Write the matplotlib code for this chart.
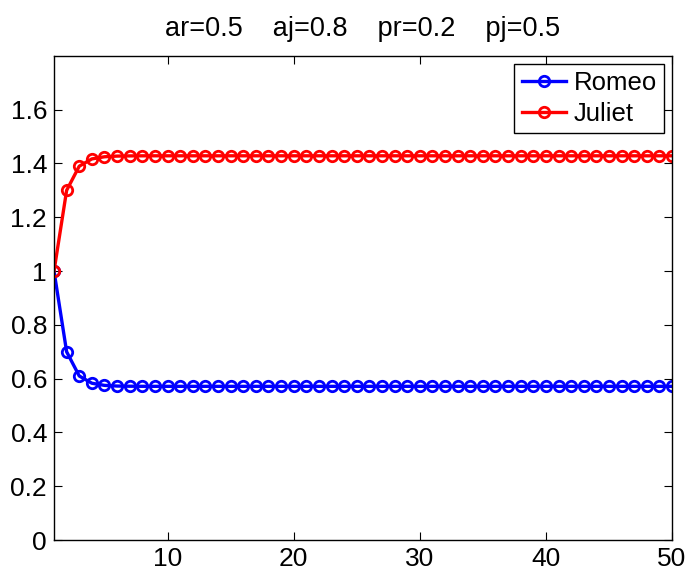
import numpy as np
import matplotlib.pyplot as plt
from matplotlib.ticker import FuncFormatter

plt.rcParams['font.family'] = ['Liberation Sans', 'DejaVu Sans']

# time steps
steps = list(range(1, 51))

# values
romeo = [1.0, 0.7, 0.61, 0.583, 0.575, 0.5725, 0.5718, 0.5715] + [0.5714] * 42
juliet = [1.0, 1.3, 1.39, 1.417, 1.425, 1.4275, 1.4282, 1.4285] + [1.4286] * 42

title_text = "ar=0.5    aj=0.8    pr=0.2    pj=0.5"

fig = plt.figure(figsize=(6.89, 5.77), dpi=100)
ax = fig.add_axes([0.0784, 0.0641, 0.897, 0.839])

ax.plot(steps, romeo, color='blue', linewidth=2.4, marker='o', markersize=7.5,
        markerfacecolor='none', markeredgewidth=2.0, label='Romeo')
ax.plot(steps, juliet, color='red', linewidth=2.4, marker='o', markersize=7.5,
        markerfacecolor='none', markeredgewidth=2.0, label='Juliet')

ax.set_xlim(1, 50)
ax.set_ylim(0, 1.8)
ax.set_xticks([10, 20, 30, 40, 50])
ax.set_yticks(np.arange(0, 1.61, 0.2))
ax.yaxis.set_major_formatter(FuncFormatter(lambda v, p: f"{v:g}"))
ax.tick_params(direction='in', top=True, right=True, labelsize=19, length=6,
               width=0.8, pad=5)
for s in ax.spines.values():
    s.set_linewidth(1.0)

ax.set_title(title_text, fontsize=19.5, pad=14)

leg = ax.legend(loc='upper right', fontsize=18.5, fancybox=False, framealpha=1,
                edgecolor='black', handlelength=1.7, handletextpad=0.3,
                borderpad=0.3, labelspacing=0.25, borderaxespad=0.3)
leg.get_frame().set_linewidth(1.0)

fig.savefig('out.png', dpi=100)
